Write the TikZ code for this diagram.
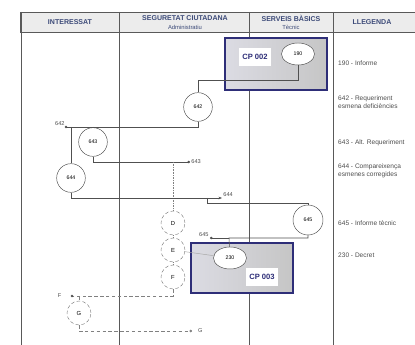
\documentclass[tikz,border=0pt]{standalone}
\usepackage{fontspec}
\setmainfont{Liberation Sans}
\usetikzlibrary{shapes.geometric,arrows.meta}

\definecolor{navy}{HTML}{2E2E78}
\definecolor{headtext}{HTML}{3C4A78}
\definecolor{linegray}{HTML}{505050}

\tikzset{
  proc/.style={circle, draw=linegray, fill=white, minimum size=0.86cm, inner sep=0pt, font=\fontsize{4.5}{5}\selectfont},
  docu/.style={ellipse, draw=linegray, fill=white, minimum width=0.99cm, minimum height=0.66cm, inner sep=0pt, font=\fontsize{4.5}{5}\selectfont},
  aux/.style={circle, densely dashed, draw=gray, fill=white, minimum size=0.72cm, inner sep=0pt, font=\fontsize{5}{6}\selectfont},
  cpbox/.style={draw=navy, line width=1.1pt, left color=blue!12!gray!25, right color=gray!45},
  cplabel/.style={fill=white, text=navy, font=\bfseries\fontsize{6.5}{7}\selectfont, inner sep=3pt, minimum height=0.55cm},
  headb/.style={text=headtext, font=\bfseries\fontsize{6}{7}\selectfont},
  heads/.style={text=headtext, font=\fontsize{5}{6}\selectfont},
  flow/.style={draw=linegray, line width=0.5pt},
  legend/.style={anchor=west, text=gray!60!black, font=\fontsize{5.6}{6.8}\selectfont, align=left, inner sep=0pt},
  tag/.style={text=gray!60!black, font=\fontsize{4.8}{5}\selectfont, inner sep=1pt},
  endpt/.style={-{Circle[length=2.2pt]}},
}

\begin{document}
\begin{tikzpicture}[x=0.03cm, y=-0.03cm]
        \useasboundingbox (0,0) rectangle (415,345);
        % header
            \filldraw[draw=gray!70!black, fill=gray!15] (20,12) rectangle (416,32);
            \node[headb] (hint) at (70,22) {INTERESSAT};
            \node[headb] (hseg) at (185,18) {SEGURETAT CIUTADANA};
            \node[heads] (hsegb) at (185,27) {Administratiu};
            \node[headb] (hser) at (291,18) {SERVEIS BÀSICS};
            \node[heads] (hserb) at (291,27) {Tècnic};
            \node[headb] (hleg) at (372,22) {LLEGENDA};
        % columns
            \draw [gray!70!black, line width=0.6pt] (21,12) -- (21,345);
            \draw [gray!70!black, line width=0.6pt] (119,12) -- (119,345);
            \draw [gray!70!black, line width=0.6pt] (249,12) -- (249,345);
            \draw [gray!70!black, line width=0.6pt] (333,12) -- (333,345);
        % boxes
            \draw [cpbox] (225,38) rectangle (327,90);
            \draw [cpbox] (191,243) rectangle (293,293);
            \node[cplabel] (cp2) at (255,57) {CP 002};
            \node[cplabel] (cp3) at (262,277) {CP 003};
        % nodes
            \node[docu] (n190) at (298,54) {190};
            \node[proc] (n642) at (198,107) {642};
            \node[proc] (n643) at (93,142) {643};
            \node[proc] (n644) at (71,178) {644};
            \node[proc, minimum size=0.9cm] (n645) at (308,220) {645};
            \node[docu] (n230) at (230,258) {230};
            \node[aux] (D) at (173,223) {D};
            \node[aux] (E) at (173,250) {E};
            \node[aux] (F) at (173,277) {F};
            \node[aux] (G) at (79,313) {G};
        % points
            \coordinate (b190) at (298,80);
            \coordinate (p642) at (66,127);
            \coordinate (e643) at (190,162);
            \coordinate (j644) at (207,198);
            \coordinate (k644) at (207,203);
            \coordinate (e644) at (222,198);
            \coordinate (k645) at (229,238);
            \coordinate (e645) at (210,238);
            \coordinate (pF) at (72,296);
            \coordinate (eG) at (192,331);
        % lines
            \draw [flow] (n190) -- (b190) -| (n642);
            \draw [flow] (n642) -- (n642 |- p642) -- (p642);
            \fill [linegray] (p642) circle (1.3);
            \draw [flow] (n643 |- p642) -- (n643);
            \draw [flow] (n644 |- p642) -- (n644);
            \draw [flow, endpt] (n643) |- (e643);
            \draw [gray, densely dotted] (D |- e643) -- (D);
            \draw [flow] (n644) |- (j644);
            \draw [flow, -{Stealth[length=3pt]}] (j644) -- (e644);
            \draw [flow] (j644) -- (k644) -| (n645);
            \draw [flow] (n645) |- (k645) -- (n230);
            \draw [flow, endpt] (k645) -- (e645);
            \draw [gray!70] (E) -- (n230);
            \draw [gray, densely dotted] (D) -- (E) -- (F);
            \draw [gray, densely dashed] (F) |- (pF);
            \fill [linegray] (pF) circle (1.3);
            \draw [gray, densely dashed] (G |- pF) -- (G);
            \draw [gray, densely dashed, endpt] (G) |- (eG);
        % tags
            \node[tag, anchor=south east] (t642) at (p642) {642};
            \node[tag, anchor=west] (t643) at (e643) {643};
            \node[tag, anchor=south west] (t644) at (e644) {644};
            \node[tag, anchor=south east] (t645) at (e645) {645};
            \node[tag, anchor=east, xshift=-8pt] (tF) at (pF) {F};
            \node[tag, anchor=west, xshift=4pt] (tG) at (eG) {G};
        % legend
            \node[legend] (l190) at (338,63) {190 - Informe};
            \node[legend] (l642) at (338,102) {642 - Requeriment\\esmena deficiències};
            \node[legend] (l643) at (338,143) {643 - Alt. Requeriment};
            \node[legend] (l644) at (338,171) {644 - Compareixença\\esmenes corregides};
            \node[legend] (l645) at (338,223) {645 - Informe tècnic};
            \node[legend] (l230) at (338,255) {230 - Decret};
    \end{tikzpicture}
\end{document}
